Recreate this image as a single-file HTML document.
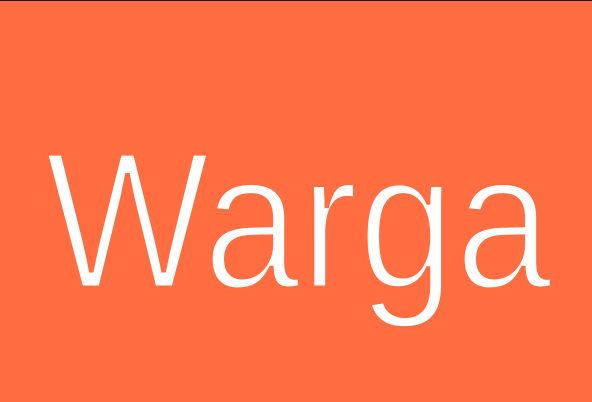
<!DOCTYPE html>
<html><head><meta charset="utf-8"><style>
html,body{margin:0;padding:0;width:592px;height:402px;overflow:hidden;background:#ff6d41}
</style></head><body>
<svg width="592" height="402" viewBox="0 0 592 402" xmlns="http://www.w3.org/2000/svg">
<rect x="0" y="0" width="592" height="402" fill="#ff6d41"/>
<rect x="0" y="0" width="592" height="1" fill="#1a1a1a"/>
<text x="45" y="288" font-family="Liberation Sans, sans-serif" font-size="196" fill="#ffffff" stroke="#ff6d41" stroke-width="5" textLength="507" lengthAdjust="spacingAndGlyphs">Warga</text>
</svg>
</body></html>
